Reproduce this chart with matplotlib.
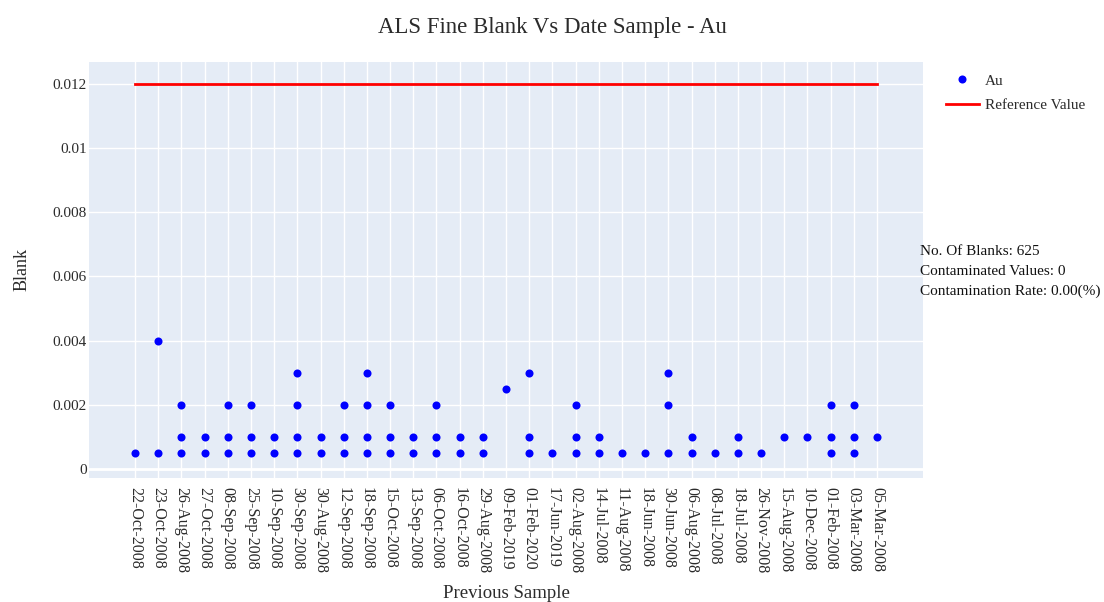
import matplotlib
matplotlib.use("Agg")
import matplotlib.pyplot as plt

plt.rcParams["font.family"] = ["Liberation Serif", "DejaVu Serif"]

sample_dates = [
    "22-Oct-2008", "23-Oct-2008", "26-Aug-2008", "27-Oct-2008", "08-Sep-2008",
    "25-Sep-2008", "10-Sep-2008", "30-Sep-2008", "30-Aug-2008", "12-Sep-2008",
    "18-Sep-2008", "15-Oct-2008", "13-Sep-2008", "06-Oct-2008", "16-Oct-2008",
    "29-Aug-2008", "09-Feb-2019", "01-Feb-2020", "17-Jun-2019", "02-Aug-2008",
    "14-Jul-2008", "11-Aug-2008", "18-Jun-2008", "30-Jun-2008", "06-Aug-2008",
    "08-Jul-2008", "18-Jul-2008", "26-Nov-2008", "15-Aug-2008", "10-Dec-2008",
    "01-Feb-2008", "03-Mar-2008", "05-Mar-2008",
]

# distinct blank values seen for each previous sample
blank_values = [
    [0.0005],
    [0.0005, 0.004],
    [0.0005, 0.001, 0.002],
    [0.0005, 0.001],
    [0.0005, 0.001, 0.002],
    [0.0005, 0.001, 0.002],
    [0.0005, 0.001],
    [0.0005, 0.001, 0.002, 0.003],
    [0.0005, 0.001],
    [0.0005, 0.001, 0.002],
    [0.0005, 0.001, 0.002, 0.003],
    [0.0005, 0.001, 0.002],
    [0.0005, 0.001],
    [0.0005, 0.001, 0.002],
    [0.0005, 0.001],
    [0.0005, 0.001],
    [0.0025],
    [0.0005, 0.001, 0.003],
    [0.0005],
    [0.0005, 0.001, 0.002],
    [0.0005, 0.001],
    [0.0005],
    [0.0005],
    [0.0005, 0.002, 0.003],
    [0.0005, 0.001],
    [0.0005],
    [0.0005, 0.001],
    [0.0005],
    [0.001],
    [0.001],
    [0.0005, 0.001, 0.002],
    [0.0005, 0.001, 0.002],
    [0.001],
]

ref_value = 0.012
y_ticks = [0, 0.002, 0.004, 0.006, 0.008, 0.01, 0.012]
y_tick_labels = ["0", "0.002", "0.004", "0.006", "0.008", "0.01", "0.012"]
stats_lines = ["No. Of Blanks: 625", "Contaminated Values: 0", "Contamination Rate: 0.00(%)"]

xs = []
ys = []
for i, vals in enumerate(blank_values):
    for v in vals:
        xs.append(i)
        ys.append(v)

txt = "#2b2b2b"

fig = plt.figure(figsize=(11.04, 6.02), dpi=100)
ax = fig.add_axes([0.0809, 0.2065, 0.7549, 0.6905])
ax.set_facecolor("#E5ECF6")

ax.plot([0, len(sample_dates) - 1], [ref_value, ref_value], color="red", lw=2, label="Reference Value", zorder=3)
ax.plot(xs, ys, "o", color="blue", ms=5.8, mec="none", label="Au", zorder=4)

ax.set_xlim(-1.97, len(sample_dates) - 1 + 1.97)
ax.set_ylim(-0.000261, 0.012669)
ax.set_xticks(range(len(sample_dates)))
ax.set_xticklabels(sample_dates, rotation=-90, fontsize=11.5, color=txt)
ax.set_yticks(y_ticks)
ax.set_yticklabels(y_tick_labels, fontsize=11, color=txt)
ax.tick_params(length=0)
ax.tick_params(axis="y", pad=2)
ax.tick_params(axis="x", pad=7)
ax.grid(True, color="white", lw=1)
ax.axhline(0, color="white", lw=2, zorder=1)
ax.set_axisbelow(True)
for s in ax.spines.values():
    s.set_visible(False)

ax.set_xlabel("Previous Sample", fontsize=13.5, color=txt, labelpad=8)
ax.set_ylabel("Blank", fontsize=13, color=txt, labelpad=16)
fig.text(0.5, 0.955, "ALS Fine Blank Vs Date Sample - Au", ha="center", va="center",
         fontsize=16.4, color=txt)

handles, labels = ax.get_legend_handles_labels()
leg = fig.legend(handles[::-1], labels[::-1], loc="upper left", bbox_to_anchor=(0.851, 0.887),
                 frameon=False, fontsize=11, handlelength=2.2, handletextpad=0.4,
                 labelspacing=0.68, borderaxespad=0)
for t in leg.get_texts():
    t.set_color(txt)

for k, line in enumerate(stats_lines):
    fig.text(0.833, 0.582 - k * 0.033, line, ha="left", va="center", fontsize=11, color="#111111")

fig.savefig("out.png", dpi=100)
